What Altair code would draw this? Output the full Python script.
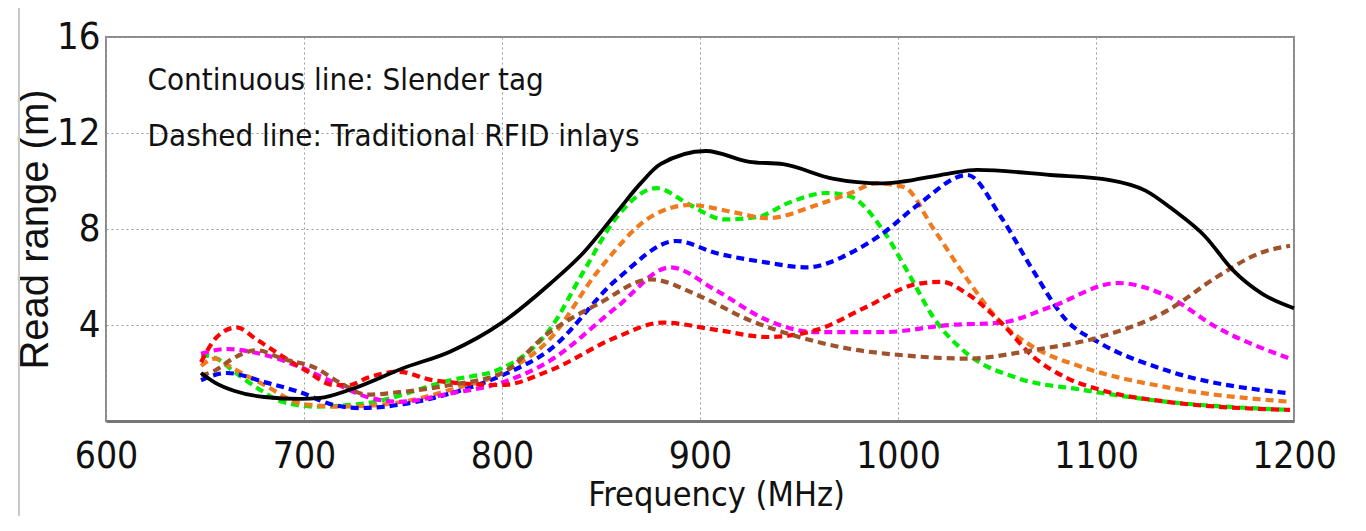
import altair as alt
import pandas as pd

# Continuous line: slender tag
slender_f = [648, 655, 665, 680, 698, 708, 723, 750, 774, 800, 824, 841, 858, 870, 880, 903, 925, 942, 967, 992, 1001, 1025, 1040, 1077, 1107, 1125, 1139, 1155, 1169, 1184, 1200]
slender_v = [2.0, 1.6, 1.25, 1.0, 0.92, 0.96, 1.3, 2.2, 2.9, 4.1, 5.7, 7.0, 8.7, 9.9, 10.7, 11.25, 10.8, 10.7, 10.1, 9.9, 9.96, 10.3, 10.46, 10.25, 10.04, 9.6, 8.8, 7.7, 6.3, 5.3, 4.7]

# Dashed lines: traditional RFID inlays
green_f = [648, 656, 664, 676, 689, 706, 732, 774, 800, 824, 841, 858, 878, 895, 912, 929, 945, 964, 976, 992, 1005, 1018, 1035, 1060, 1093, 1136, 1198]
green_v = [2.75, 2.6, 2.1, 1.4, 0.8, 0.6, 0.75, 1.7, 2.2, 3.8, 6.2, 8.5, 9.7, 9.0, 8.4, 8.5, 9.1, 9.5, 9.35, 8.0, 6.2, 4.3, 2.8, 1.8, 1.3, 0.8, 0.46]

orange_f = [648, 655, 664, 680, 700, 720, 750, 774, 800, 824, 849, 875, 895, 917, 934, 959, 976, 989, 1003, 1018, 1035, 1052, 1068, 1093, 1136, 1198]
orange_v = [2.3, 2.6, 2.2, 1.5, 0.7, 0.6, 0.8, 1.3, 2.0, 3.4, 6.3, 8.5, 9.0, 8.7, 8.45, 9.0, 9.5, 9.9, 9.75, 8.0, 5.9, 4.1, 3.1, 2.25, 1.4, 0.8]

blue_f = [648, 661, 681, 698, 715, 728, 750, 774, 800, 824, 858, 888, 908, 934, 954, 976, 992, 1010, 1035, 1052, 1068, 1085, 1102, 1136, 1198]
blue_v = [1.7, 2.0, 1.6, 1.2, 0.67, 0.54, 0.7, 1.15, 1.9, 2.96, 5.9, 7.5, 7.0, 6.6, 6.4, 7.0, 7.8, 9.0, 10.25, 8.5, 6.3, 4.2, 3.25, 2.1, 1.15]

magenta_f = [648, 661, 678, 698, 715, 732, 748, 774, 800, 824, 858, 885, 908, 934, 959, 992, 1026, 1052, 1077, 1111, 1136, 1161, 1198]
magenta_v = [2.8, 3.0, 2.8, 2.25, 1.6, 1.0, 0.8, 1.15, 1.6, 2.5, 4.75, 6.4, 5.45, 4.2, 3.7, 3.7, 4.0, 4.1, 4.75, 5.75, 5.2, 3.9, 2.6]

red_f = [648, 656, 666, 676, 689, 701, 715, 723, 732, 748, 765, 800, 824, 858, 881, 908, 934, 959, 984, 1009, 1022, 1035, 1052, 1068, 1085, 1102, 1136, 1198]
red_v = [2.45, 3.5, 3.9, 3.4, 2.7, 2.1, 1.5, 1.5, 1.8, 2.05, 1.7, 1.5, 2.1, 3.5, 4.1, 3.8, 3.5, 3.8, 4.75, 5.7, 5.8, 5.3, 4.1, 2.7, 1.8, 1.3, 0.8, 0.46]

brown_f = [648, 655, 664, 676, 689, 706, 718, 732, 748, 774, 800, 824, 849, 875, 900, 925, 950, 976, 1001, 1035, 1068, 1102, 1136, 1161, 1183, 1198]
brown_v = [1.9, 2.1, 2.6, 2.95, 2.6, 2.2, 1.6, 1.1, 1.2, 1.5, 2.0, 3.7, 4.9, 5.9, 5.2, 4.2, 3.5, 3.0, 2.75, 2.6, 2.95, 3.5, 4.6, 6.0, 7.0, 7.3]

series_names = ["green", "orange", "blue", "magenta", "red", "brown"]
series_colors = ["#00ee00", "#f07a1e", "#0000ff", "#ff00ff", "#ff0000", "#a0522d"]
series_data = [(green_f, green_v), (orange_f, orange_v), (blue_f, blue_v),
               (magenta_f, magenta_v), (red_f, red_v), (brown_f, brown_v)]

x_ticks = [600, 700, 800, 900, 1000, 1100, 1200]
y_ticks = [0, 4, 8, 12, 16]

notes = ["Continuous line: Slender tag", "Dashed line: Traditional RFID inlays"]
note_f = [621, 621]
note_v = [14.15, 11.85]

rows = []
for name, (fs, vs) in zip(series_names, series_data):
    for i, (f, v) in enumerate(zip(fs, vs)):
        rows.append({"series": name, "f": f, "v": v, "i": i})
dashed_df = pd.DataFrame(rows)
solid_df = pd.DataFrame({"f": slender_f, "v": slender_v, "i": list(range(len(slender_f)))})
notes_df = pd.DataFrame({"f": note_f, "v": note_v, "text": notes})

narrow = "DejaVu Sans Condensed, Liberation Sans Narrow, Roboto, sans-serif"

x_scale = alt.Scale(domain=[600, 1200], nice=False, zero=False)
y_scale = alt.Scale(domain=[0, 16], nice=False)

x_axis = alt.Axis(
    values=x_ticks, format="d", title="Frequency (MHz)", grid=True, gridDash=[2, 3],
    gridColor="#9a9a9a", gridWidth=1, labelFont=narrow, labelFontSize=37,
    labelColor="#111111", tickSize=0, labelPadding=17, labelFlush=False,
    domainColor="#777777", domainWidth=3, titleFont=narrow, titleFontSize=34,
    titleFontWeight="normal", titleColor="#111111", titleX=610, titleY=74,
    titleBaseline="middle", labelOverlap=False,
)
y_axis = alt.Axis(
    values=y_ticks, format="d", title="Read range (m)", grid=True, gridDash=[2, 3],
    gridColor="#9a9a9a", gridWidth=1, labelFont=narrow, labelFontSize=38,
    labelColor="#111111", tickSize=0, labelPadding=6, labelFlush=False,
    domain=False, titleFont="Liberation Sans, Arial, sans-serif", titleFontSize=40,
    titleFontWeight="normal", titleColor="#111111", titleAngle=270,
    titleX=-71, titleY=192, titleBaseline="middle", titleAlign="center",
    labelOverlap=False,
    labelExpr="datum.value == 0 ? '' : datum.label",
)

dashed = alt.Chart(dashed_df).mark_line(
    strokeWidth=4.2, strokeDash=[8, 5], interpolate="monotone"
).encode(
    x=alt.X("f:Q", scale=x_scale, axis=x_axis),
    y=alt.Y("v:Q", scale=y_scale, axis=y_axis),
    color=alt.Color("series:N", scale=alt.Scale(domain=series_names, range=series_colors), legend=None),
    order="i:Q",
    detail="series:N",
)

solid = alt.Chart(solid_df).mark_line(
    strokeWidth=3.8, color="#000000", interpolate="monotone"
).encode(
    x=alt.X("f:Q", scale=x_scale),
    y=alt.Y("v:Q", scale=y_scale),
    order="i:Q",
)

text = alt.Chart(notes_df).mark_text(
    align="left", baseline="middle", font=narrow, fontSize=31, color="#111111"
).encode(
    x=alt.X("f:Q", scale=x_scale),
    y=alt.Y("v:Q", scale=y_scale),
    text="text:N",
)

# thin grey page border line at the far left of the figure
border = alt.Chart(pd.DataFrame({"k": [0]})).mark_rule(
    color="#c8c8c8", strokeWidth=2
).encode(x=alt.value(-87), y=alt.value(-32), y2=alt.value(494))

chart = alt.layer(dashed, solid, text, border).properties(
    width=1188, height=384,
    autosize=alt.AutoSizeParams(type="none"),
    padding={"left": 98, "top": 29, "right": 50, "bottom": 95},
    background="white",
).configure_view(stroke="#8a8a8a", strokeWidth=2)

chart.save("out.html", embed_options={"renderer": "svg", "actions": False})
